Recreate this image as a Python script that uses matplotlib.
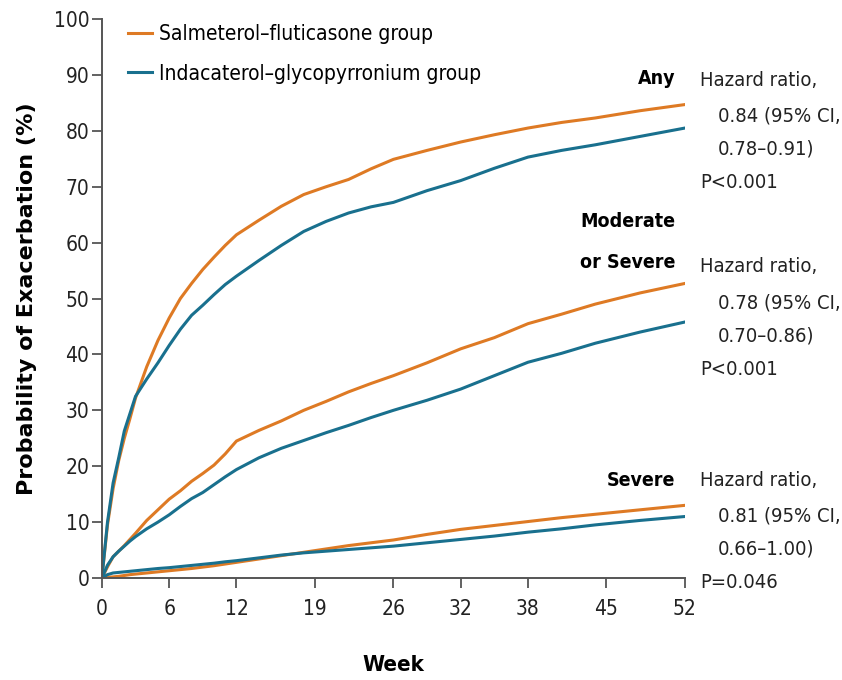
import matplotlib
matplotlib.use("Agg")
import matplotlib.pyplot as plt

plt.rcParams['font.family'] = ['DejaVu Sans']
plt.rcParams['font.stretch'] = 'condensed'

ORANGE = "#de7a24"
TEAL = "#19708e"

# Kaplan-Meier estimates (%), read per week
weeks = [0, 0.5, 1, 1.5, 2, 2.5, 3, 4, 5, 6, 7, 8, 9, 10, 11, 12, 14, 16,
         18, 20, 22, 24, 26, 29, 32, 35, 38, 41, 44, 48, 52]

any_sf = [0, 9.5, 16, 21, 25, 28.5, 32.2, 37.8, 42.5, 46.5, 50, 52.7, 55.2,
          57.4, 59.5, 61.4, 64, 66.5, 68.6, 70, 71.3, 73.2, 74.9, 76.5, 78,
          79.3, 80.5, 81.5, 82.3, 83.6, 84.7]
any_ig = [0, 10, 17, 21.5, 26.3, 29.4, 32.5, 35.6, 38.5, 41.6, 44.5, 47,
          48.8, 50.7, 52.5, 54, 56.8, 59.5, 62, 63.8, 65.3, 66.4, 67.2,
          69.3, 71.1, 73.3, 75.3, 76.5, 77.5, 79, 80.5]

mod_sf = [0, 2, 3.8, 4.8, 5.8, 6.9, 8, 10.3, 12.2, 14.1, 15.6, 17.3, 18.7,
          20.2, 22.2, 24.5, 26.4, 28.1, 30, 31.6, 33.3, 34.8, 36.2, 38.5,
          41, 43, 45.5, 47.2, 49, 51, 52.7]
mod_ig = [0, 2.3, 3.8, 4.8, 5.7, 6.6, 7.4, 8.8, 10, 11.3, 12.8, 14.2, 15.3,
          16.7, 18.1, 19.4, 21.5, 23.2, 24.6, 26, 27.3, 28.7, 30, 31.8,
          33.8, 36.2, 38.6, 40.2, 42, 44, 45.8]

sev_sf = [0, 0.1, 0.2, 0.3, 0.45, 0.6, 0.7, 0.9, 1.1, 1.3, 1.5, 1.7, 1.95,
          2.2, 2.5, 2.8, 3.4, 4.0, 4.6, 5.2, 5.8, 6.3, 6.8, 7.8, 8.7, 9.4,
          10.1, 10.8, 11.4, 12.2, 13]
sev_ig = [0, 0.6, 0.9, 1.0, 1.1, 1.2, 1.3, 1.5, 1.7, 1.85, 2.05, 2.25,
          2.45, 2.65, 2.9, 3.1, 3.6, 4.1, 4.5, 4.8, 5.1, 5.4, 5.7, 6.3, 6.9,
          7.5, 8.2, 8.8, 9.5, 10.3, 11]

xticks = [0, 6, 12, 19, 26, 32, 38, 45, 52]
yticks = list(range(0, 101, 10))

fig = plt.figure(figsize=(8.42, 6.8), dpi=100)
ax = fig.add_axes([0.121, 0.15, 0.6925, 0.822])

lw = 2.2
ax.plot(weeks, any_sf, color=ORANGE, lw=lw, label="Salmeterol\u2013fluticasone group")
ax.plot(weeks, any_ig, color=TEAL, lw=lw, label="Indacaterol\u2013glycopyrronium group")
ax.plot(weeks, mod_sf, color=ORANGE, lw=lw)
ax.plot(weeks, mod_ig, color=TEAL, lw=lw)
ax.plot(weeks, sev_sf, color=ORANGE, lw=lw)
ax.plot(weeks, sev_ig, color=TEAL, lw=lw)

ax.set_xlim(0, 52)
ax.set_ylim(0, 100)
ax.set_xticks(xticks)
ax.set_yticks(yticks)
ax.tick_params(axis='both', labelsize=15, color="#555555", width=1.3,
               length=7, labelcolor="#222222")
ax.tick_params(axis='x', pad=8)
ax.tick_params(axis='y', pad=2)
for side in ("top", "right"):
    ax.spines[side].set_visible(False)
for side in ("left", "bottom"):
    ax.spines[side].set_color("#555555")
    ax.spines[side].set_linewidth(1.4)

ax.set_xlabel("Week", fontsize=16, fontweight="bold", labelpad=26)
ax.set_ylabel("Probability of Exacerbation (%)", fontsize=16,
              fontweight="bold", labelpad=12, stretch="normal")

ax.legend(loc="upper left", bbox_to_anchor=(0.012, 1.025), frameon=False,
          fontsize=15, handlelength=1.15, handletextpad=0.35,
          labelspacing=0.95)

# outcome labels and hazard ratios to the right of the curves
def px(x, y):
    return x / 842, 1 - y / 680

bold = dict(fontsize=14, fontweight="bold", ha="right", va="center")
fig.text(*px(675, 78), "Any", **bold)
fig.text(*px(675, 222), "Moderate", **bold)
fig.text(*px(675, 262), "or Severe", **bold)
fig.text(*px(675, 480), "Severe", **bold)

hr_blocks = [
    (80, "0.84 (95% CI,", "0.78\u20130.91)", "P<0.001"),
    (267, "0.78 (95% CI,", "0.70\u20130.86)", "P<0.001"),
    (480, "0.81 (95% CI,", "0.66\u20131.00)", "P=0.046"),
]
norm = dict(fontsize=14.5, ha="left", va="center", color="#222222")
for y0, hr, ci, p in hr_blocks:
    fig.text(*px(700, y0), "Hazard ratio,", **norm)
    fig.text(*px(718, y0 + 36), hr, **norm)
    fig.text(*px(718, y0 + 69), ci, **norm)
    fig.text(*px(700, y0 + 103), p, **norm)

fig.savefig("out.png", dpi=100)
